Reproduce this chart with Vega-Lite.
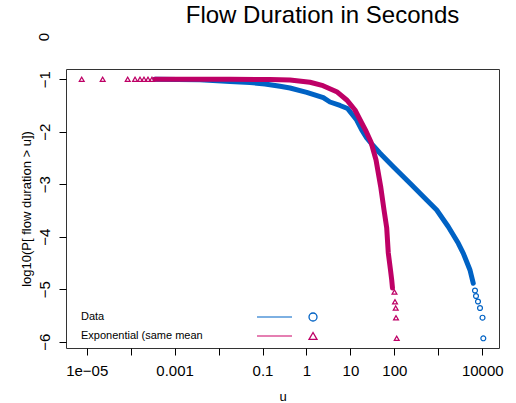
{
  "$schema": "https://vega.github.io/schema/vega-lite/v6.json",
  "width": 433,
  "height": 279,
  "autosize": {"type": "none"},
  "padding": {"left": 66, "top": 69, "right": 17, "bottom": 55},
  "background": "white",
  "config": {
    "font": "Liberation Sans",
    "view": {"stroke": "#333333", "strokeWidth": 1},
    "axis": {"labelColor": "black", "tickColor": "black", "titleColor": "black", "domain": false, "grid": false, "labelFont": "Liberation Sans", "titleFont": "Liberation Sans", "titleFontWeight": "normal"}
  },
  "title": {"text": "Flow Duration in Seconds", "fontSize": 24, "fontWeight": "normal", "font": "Liberation Sans", "color": "black", "anchor": "middle", "frame": "group", "dx": 40, "baseline": "alphabetic", "offset": -14},
  "datasets": {
    "curve": [
      {"series": "Data", "u": 0.000358, "logp": -1.0},
      {"series": "Data", "u": 0.003785, "logp": -1.01},
      {"series": "Data", "u": 0.01824, "logp": -1.042},
      {"series": "Data", "u": 0.052, "logp": -1.061},
      {"series": "Data", "u": 0.114, "logp": -1.09},
      {"series": "Data", "u": 0.25, "logp": -1.133},
      {"series": "Data", "u": 0.4227, "logp": -1.166},
      {"series": "Data", "u": 1.014, "logp": -1.248},
      {"series": "Data", "u": 2.417, "logp": -1.351},
      {"series": "Data", "u": 3.43, "logp": -1.433},
      {"series": "Data", "u": 5.8, "logp": -1.499},
      {"series": "Data", "u": 8.59, "logp": -1.556},
      {"series": "Data", "u": 13.9, "logp": -1.776},
      {"series": "Data", "u": 18.1, "logp": -1.966},
      {"series": "Data", "u": 23.5, "logp": -2.119},
      {"series": "Data", "u": 30.5, "logp": -2.233},
      {"series": "Data", "u": 47.2, "logp": -2.41},
      {"series": "Data", "u": 94.6, "logp": -2.665},
      {"series": "Data", "u": 227, "logp": -2.982},
      {"series": "Data", "u": 544, "logp": -3.3},
      {"series": "Data", "u": 920, "logp": -3.491},
      {"series": "Data", "u": 1690, "logp": -3.809},
      {"series": "Data", "u": 2853, "logp": -4.125},
      {"series": "Data", "u": 3707, "logp": -4.316},
      {"series": "Data", "u": 5262, "logp": -4.634},
      {"series": "Data", "u": 6252, "logp": -4.887},
      {"series": "Exponential", "u": 0.000358, "logp": -1.0},
      {"series": "Exponential", "u": 0.01824, "logp": -1.0},
      {"series": "Exponential", "u": 0.1483, "logp": -1.004},
      {"series": "Exponential", "u": 0.4227, "logp": -1.013},
      {"series": "Exponential", "u": 1.205, "logp": -1.057},
      {"series": "Exponential", "u": 2.382, "logp": -1.122},
      {"series": "Exponential", "u": 4.88, "logp": -1.236},
      {"series": "Exponential", "u": 8.24, "logp": -1.394},
      {"series": "Exponential", "u": 12.73, "logp": -1.585},
      {"series": "Exponential", "u": 18.09, "logp": -1.833},
      {"series": "Exponential", "u": 22.6, "logp": -1.985},
      {"series": "Exponential", "u": 29.4, "logp": -2.195},
      {"series": "Exponential", "u": 38.3, "logp": -2.538},
      {"series": "Exponential", "u": 48.9, "logp": -3.047},
      {"series": "Exponential", "u": 58.2, "logp": -3.491},
      {"series": "Exponential", "u": 67.0, "logp": -3.833},
      {"series": "Exponential", "u": 72.8, "logp": -4.31},
      {"series": "Exponential", "u": 81.7, "logp": -4.634},
      {"series": "Exponential", "u": 87.1, "logp": -4.825},
      {"series": "Exponential", "u": 90.7, "logp": -4.977}
    ],
    "tail": [
      {"series": "Data", "u": 6839, "logp": -5.024},
      {"series": "Data", "u": 7211, "logp": -5.129},
      {"series": "Data", "u": 8000, "logp": -5.234},
      {"series": "Data", "u": 8892, "logp": -5.358},
      {"series": "Data", "u": 10140, "logp": -5.543},
      {"series": "Data", "u": 10570, "logp": -5.935},
      {"series": "Exponential", "u": 0.0000077, "logp": -1.0},
      {"series": "Exponential", "u": 0.0000231, "logp": -1.0},
      {"series": "Exponential", "u": 0.0000857, "logp": -1.0},
      {"series": "Exponential", "u": 0.000126, "logp": -1.0},
      {"series": "Exponential", "u": 0.0001633, "logp": -1.0},
      {"series": "Exponential", "u": 0.0002014, "logp": -1.0},
      {"series": "Exponential", "u": 0.0002483, "logp": -1.0},
      {"series": "Exponential", "u": 0.000306, "logp": -1.0},
      {"series": "Exponential", "u": 100.7, "logp": -5.053},
      {"series": "Exponential", "u": 103.5, "logp": -5.238},
      {"series": "Exponential", "u": 107.4, "logp": -5.358},
      {"series": "Exponential", "u": 109.1, "logp": -5.543},
      {"series": "Exponential", "u": 113.2, "logp": -5.935}
    ],
    "legend": [
      {"series": "Data", "label": "Data"},
      {"series": "Exponential", "label": "Exponential (same mean"}
    ],
    "zero": [{"label": "0"}]
  },
  "layer": [
    {
      "layer": [
        {
          "data": {"name": "curve"},
          "mark": {"type": "line", "strokeWidth": 5, "strokeCap": "round", "strokeJoin": "round"},
          "encoding": {
            "x": {
              "field": "u", "type": "quantitative",
              "scale": {"type": "log", "domain": [0.00000338, 24050], "nice": false},
              "axis": {
                "values": [0.00001, 0.0001, 0.001, 0.01, 0.1, 1, 10, 100, 1000, 10000],
                "labelExpr": "datum.value < 5e-5 ? '1e−05' : datum.value < 5e-4 ? '' : datum.value < 5e-3 ? '0.001' : datum.value < 5e-2 ? '' : datum.value < 0.5 ? '0.1' : datum.value < 5 ? '1' : datum.value < 50 ? '10' : datum.value < 500 ? '100' : datum.value < 5000 ? '' : '10000'",
                "labelFontSize": 15, "labelOverlap": false, "labelFlush": false, "tickSize": 7, "labelPadding": 8,
                "title": "u", "titleFontSize": 13, "titleBaseline": "alphabetic", "titleY": 52
              }
            },
            "y": {
              "field": "logp", "type": "quantitative",
              "scale": {"domain": [-6.12, -0.804], "nice": false, "zero": false},
              "axis": {
                "values": [-6, -5, -4, -3, -2, -1],
                "labelExpr": "'−' + abs(datum.value)",
                "labelFontSize": 15, "labelAngle": 270, "labelAlign": "center", "labelBaseline": "alphabetic", "tickSize": 7, "labelPadding": 10,
                "title": "log10(P[ flow duration  > u])", "titleFontSize": 13, "titleAngle": 270, "titleBaseline": "alphabetic", "titleAlign": "center", "titleX": -36, "titleY": 139.5
              }
            },
            "color": {"field": "series", "type": "nominal", "scale": {"domain": ["Data", "Exponential"], "range": ["#0062C4", "#BE0066"]}, "legend": null}
          }
        },
        {
          "data": {"name": "tail"},
          "mark": {"type": "point", "filled": false, "strokeWidth": 1.2, "size": 24, "opacity": 1},
          "encoding": {
            "x": {"field": "u", "type": "quantitative"},
            "y": {"field": "logp", "type": "quantitative"},
            "color": {"field": "series", "type": "nominal", "legend": null},
            "shape": {"field": "series", "type": "nominal", "scale": {"domain": ["Data", "Exponential"], "range": ["circle", "triangle-up"]}, "legend": null}
          }
        },
        {
          "data": {"name": "zero"},
          "mark": {"type": "text", "angle": 270, "align": "center", "baseline": "alphabetic", "fontSize": 15, "color": "black"},
          "encoding": {
            "x": {"datum": 0.000001387},
            "y": {"datum": -0.194},
            "text": {"field": "label"}
          }
        }
      ]
    },
    {
      "data": {"name": "legend"},
      "layer": [
        {
          "mark": {"type": "text", "align": "left", "baseline": "middle", "fontSize": 11, "color": "black"},
          "encoding": {
            "x": {"datum": 0.00000741},
            "y": {"field": "series", "type": "nominal", "scale": {"type": "point", "domain": ["Data", "Exponential"], "range": [248, 267], "padding": 0}, "axis": null},
            "text": {"field": "label"}
          }
        },
        {
          "mark": {"type": "rule"},
          "encoding": {
            "x": {"datum": 0.075},
            "x2": {"datum": 0.469},
            "y": {"field": "series", "type": "nominal"},
            "stroke": {"field": "series", "type": "nominal", "scale": {"domain": ["Data", "Exponential"], "range": ["#7DB0E2", "#CC0066"]}, "legend": null},
            "strokeWidth": {"field": "series", "type": "nominal", "scale": {"domain": ["Data", "Exponential"], "range": [2, 1.2]}, "legend": null}
          }
        },
        {
          "mark": {"type": "point", "filled": false, "strokeWidth": 1.3, "size": 64, "opacity": 1},
          "encoding": {
            "x": {"datum": 1.41},
            "y": {"field": "series", "type": "nominal"},
            "color": {"field": "series", "type": "nominal", "legend": null},
            "shape": {"field": "series", "type": "nominal", "legend": null}
          }
        }
      ]
    }
  ],
  "resolve": {"scale": {"y": "independent"}}
}
